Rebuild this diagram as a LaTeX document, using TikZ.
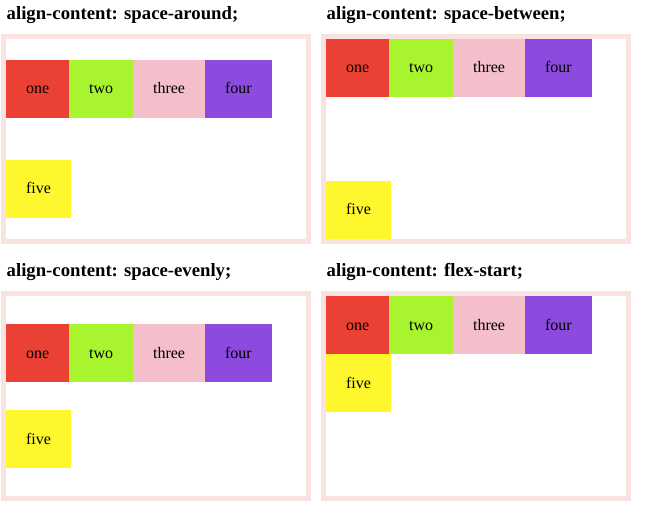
\documentclass[tikz,border=0pt]{standalone}
\usepackage{fontspec}
\setmainfont{Liberation Serif}
\usetikzlibrary{positioning}

\definecolor{flexred}{RGB}{234,65,52}
\definecolor{flexgreen}{RGB}{168,244,46}
\definecolor{flexpink}{RGB}{244,190,202}
\definecolor{flexpurple}{RGB}{140,74,222}
\definecolor{flexyellow}{RGB}{254,247,46}
\definecolor{flexborder}{RGB}{250,226,225}

\tikzset{
  item/.style={fill=#1, draw=none, anchor=north west, outer sep=0pt,
    inner xsep=20pt, inner ysep=20.5pt, text height=13.5pt, text depth=3.5pt,
    font=\fontsize{16pt}{18pt}\selectfont},
  frame/.style={draw=flexborder, line width=5pt, anchor=north west,
    minimum width=305pt, minimum height=205pt, inner sep=0pt, outer sep=0pt},
  title/.style={anchor=base west, inner sep=0pt,
    font=\fontsize{18.72pt}{22pt}\selectfont\bfseries}
}

\begin{document}
\begin{tikzpicture}[x=1pt, y=-1pt]

  \useasboundingbox (0,0) rectangle (656,513);

  % panel / inner corner / first line / second line / value
  \foreach \p/\px/\py/\ra/\rb/\val in {a/6/39/60/160/space-around,
      b/326/39/39/181/space-between, c/6/296/324/410/space-evenly,
      d/326/296/296/354/flex-start}
  {
    \node[frame] (box-\p) at (\px-2.5,\py-2.5) {};
    \node[title] (title-\p) at (\px+0.5,\py-19.5) {align-content: \val;};

    \node[item=flexred] (one-\p) at (\px,\ra) {one};
    \node[item=flexgreen, right=0pt of one-\p] (two-\p) {two};
    \node[item=flexpink, right=0pt of two-\p] (three-\p) {three};
    \node[item=flexpurple, right=0pt of three-\p] (four-\p) {four};
    \node[item=flexyellow] (five-\p) at (\px,\rb) {five};
  }

\end{tikzpicture}
\end{document}
